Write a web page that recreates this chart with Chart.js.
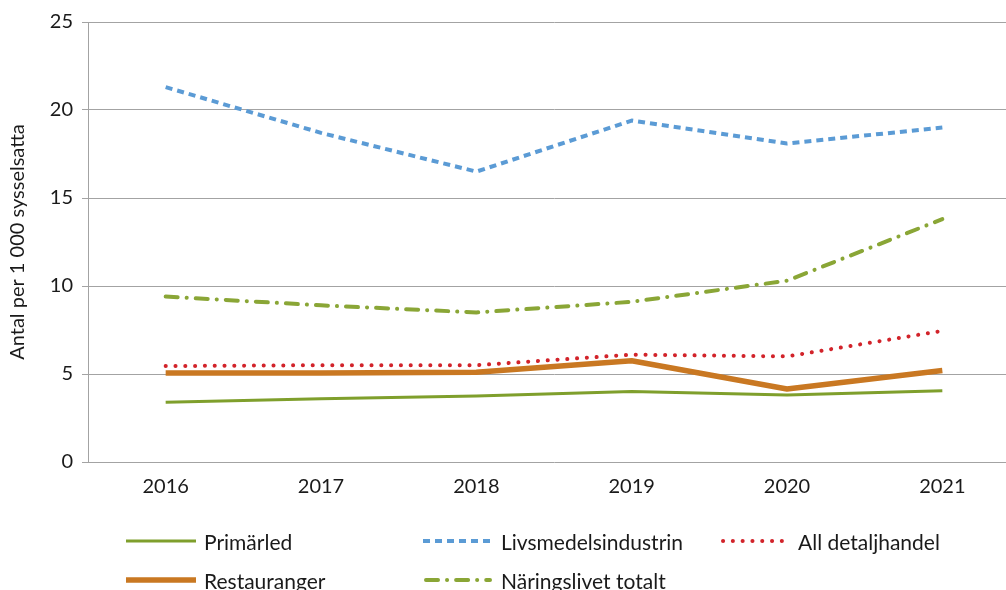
<!DOCTYPE html>
<html>
<head>
<meta charset="utf-8">
<script src="https://cdn.jsdelivr.net/npm/chart.js@4/dist/chart.umd.min.js"></script>
<style>
  html, body { margin: 0; padding: 0; background: #fff; overflow: hidden; }
  #wrap { position: relative; width: 1020px; height: 590px; }
  #legend { position: absolute; left: 0; top: 0; width: 1006px; height: 590px; pointer-events: none;
            font-family: Lato, "Open Sans", sans-serif; font-size: 21px; color: #1a1a1a; }
  .item { position: absolute; display: flex; align-items: center; white-space: nowrap; }
  .item svg { margin-right: 8px; }
</style>
</head>
<body>
<div id="wrap">
  <canvas id="chart" width="1020" height="590"></canvas>
  <div id="legend"></div>
</div>
<script>
const YEARS = ["2016", "2017", "2018", "2019", "2020", "2021"];
const PRIMARLED = [3.4, 3.6, 3.75, 4.0, 3.8, 4.05];
const LIVSMEDEL = [21.3, 18.7, 16.5, 19.4, 18.1, 19.0];
const DETALJHANDEL = [5.45, 5.5, 5.5, 6.1, 6.0, 7.45];
const RESTAURANGER = [5.05, 5.05, 5.1, 5.75, 4.15, 5.2];
const NARINGSLIVET = [9.4, 8.9, 8.5, 9.1, 10.3, 13.8];
const Y_TICKS = [0, 5, 10, 15, 20, 25];

const GREEN = "#7f9f2c";
const BLUE = "#5b9bd5";
const RED = "#d2232a";
const ORANGE = "#c97822";
const OLIVE = "#8aa636";

const series = [
    { label: "Primärled", data: PRIMARLED, color: GREEN, width: 3, dash: [], cap: "butt" },
    { label: "Livsmedelsindustrin", data: LIVSMEDEL, color: BLUE, width: 4, dash: [7, 5], cap: "butt" },
    { label: "All detaljhandel", data: DETALJHANDEL, color: RED, width: 4, dash: [0.1, 9.7], cap: "round" },
    { label: "Restauranger", data: RESTAURANGER, color: ORANGE, width: 5.5, dash: [], cap: "butt" },
    { label: "Näringslivet totalt", data: NARINGSLIVET, color: OLIVE, width: 4, dash: [12, 9, 0.1, 9], cap: "round" },
];

const FONT = "Lato, 'Open Sans', sans-serif";

new Chart(document.getElementById("chart"), {
    type: "line",
    data: {
        labels: YEARS,
        datasets: series.map((s) => ({
            label: s.label,
            data: s.data,
            borderColor: s.color,
            borderWidth: s.width,
            borderDash: s.dash,
            borderCapStyle: s.cap,
            borderJoinStyle: "round",
            pointRadius: 0,
            fill: false,
            tension: 0,
        })),
    },
    options: {
        responsive: false,
        animation: false,
        layout: { padding: { top: 22, right: 0, left: 0, bottom: 0 } },
        plugins: { legend: { display: false }, tooltip: { enabled: false } },
        scales: {
            x: {
                offset: true,
                grid: { display: false, drawTicks: false },
                border: { display: false },
                ticks: { color: "#1a1a1a", font: { family: FONT, size: 20 }, padding: 13 },
                afterFit: (s) => { s.height = 128; },
            },
            y: {
                min: 0,
                max: 25,
                afterBuildTicks: (s) => { s.ticks = Y_TICKS.map((v) => ({ value: v })); },
                grid: { color: "#a3a3a3", lineWidth: 1, tickLength: 6, drawTicks: true },
                border: { display: true, color: "#a3a3a3", width: 1 },
                ticks: { color: "#1a1a1a", font: { family: FONT, size: 20 }, padding: 9 },
                title: {
                    display: true,
                    text: "Antal per 1 000 sysselsatta",
                    color: "#1a1a1a",
                    font: { family: FONT, size: 20 },
                    padding: { top: 6, bottom: 0 },
                },
                afterFit: (s) => { s.width = 88; },
            },
        },
    },
});

// HTML legend laid out like the original two-row legend
const legendPos = [
    { x: 126, y: 541, w: 70 },
    { x: 423, y: 541, w: 70 },
    { x: 720, y: 541, w: 70 },
    { x: 126, y: 580, w: 70 },
    { x: 423, y: 580, w: 70 },
];
const legend = document.getElementById("legend");
series.forEach((s, i) => {
    const p = legendPos[i];
    const el = document.createElement("div");
    el.className = "item";
    el.style.left = p.x + "px";
    el.style.top = (p.y - 13) + "px";
    el.style.height = "26px";
    const dash = s.dash.length ? `stroke-dasharray="${s.dash.join(" ")}"` : "";
    const x0 = s.cap === "round" ? 3 : 0;
    el.innerHTML =
        `<svg width="${p.w}" height="12"><line x1="${x0}" y1="6" x2="${p.w - x0}" y2="6" stroke="${s.color}" ` +
        `stroke-width="${s.width}" stroke-linecap="${s.cap}" ${dash}/></svg><span>${s.label}</span>`;
    legend.appendChild(el);
});
</script>
</body>
</html>
